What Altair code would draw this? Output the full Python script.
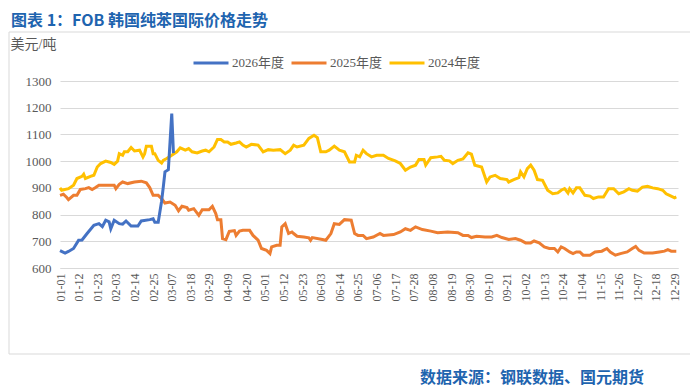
import altair as alt
import pandas as pd

TITLE = "图表 1：FOB 韩国纯苯国际价格走势"
SOURCE = "数据来源：钢联数据、国元期货"
Y_UNIT = "美元/吨"

SERIES = ["2026年度", "2025年度", "2024年度"]
COLORS = ["#4472C4", "#ED7D31", "#FFC000"]

TICK_LABELS = ["01-01", "01-12", "01-23", "02-03", "02-14", "02-25", "03-07", "03-18",
               "03-29", "04-09", "04-20", "05-01", "05-12", "05-23", "06-03", "06-14",
               "06-25", "07-06", "07-17", "07-28", "08-08", "08-19", "08-30", "09-10",
               "09-21", "10-02", "10-13", "10-24", "11-04", "11-15", "11-26", "12-07",
               "12-18", "12-29"]
Y_TICKS = [600, 700, 800, 900, 1000, 1100, 1200, 1300]

# day index (0 = 01-01) and price
DAYS_2026 = [0, 3, 5, 8, 11, 13, 16, 20, 23, 25, 27, 29, 30, 32, 35, 37, 39, 42, 46, 48,
             53, 55, 56, 58, 60, 61, 62, 64, 66, 67]
VALS_2026 = [665, 656, 662, 673, 704, 705, 729, 760, 766, 755, 779, 773, 747, 779, 766, 764,
             776, 757, 757, 776, 781, 784, 771, 771, 850, 903, 960, 968, 1178, 1030]

DAYS_2025 = [0, 2, 4, 5, 8, 10, 12, 15, 17, 19, 21, 23, 32, 33, 35, 37, 40, 44, 48, 51, 53,
             55, 58, 60, 62, 65, 68, 70, 72, 75, 76, 79, 82, 84, 88, 90, 92, 93, 95, 96, 98,
             100, 103, 104, 106, 108, 112, 114, 117, 119, 122, 124, 125, 128, 130, 131, 133,
             135, 137, 138, 140, 144, 147, 148, 149, 155, 157, 160, 162, 165, 168, 172, 174,
             176, 179, 181, 185, 189, 191, 197, 201, 204, 207, 210, 214, 219, 223, 229, 235,
             238, 241, 243, 246, 251, 255, 258, 261, 265, 269, 272, 275, 278, 280, 283, 286,
             289, 292, 294, 296, 298, 301, 303, 305, 307, 309, 313, 316, 320, 323, 325, 328,
             331, 335, 338, 340, 342, 345, 350, 354, 357, 359, 361, 364]
VALS_2025 = [872, 876, 864, 856, 872, 872, 894, 897, 901, 894, 901, 910, 910, 897, 913, 922,
             916, 922, 925, 919, 901, 872, 872, 860, 843, 847, 835, 814, 831, 826, 816, 822,
             797, 818, 818, 831, 804, 781, 781, 710, 706, 737, 740, 722, 738, 741, 741, 722,
             704, 673, 666, 654, 679, 685, 685, 754, 766, 729, 735, 729, 719, 716, 713, 704,
             714, 707, 704, 729, 766, 763, 781, 779, 729, 722, 722, 710, 716, 729, 722, 725,
             735, 747, 741, 754, 744, 738, 732, 735, 732, 722, 722, 714, 719, 716, 716, 722,
             714, 707, 710, 704, 694, 694, 701, 694, 679, 673, 673, 660, 679, 673, 660, 654,
             660, 660, 648, 648, 660, 663, 673, 660, 648, 654, 660, 673, 681, 666, 656, 656,
             660, 663, 669, 663, 663]

DAYS_2024 = [0, 1, 5, 8, 10, 13, 14, 15, 18, 20, 22, 24, 27, 30, 32, 34, 35, 37, 38, 40, 42,
             44, 47, 49, 50, 51, 54, 55, 56, 58, 60, 61, 63, 66, 69, 71, 74, 76, 78, 81, 84,
             86, 88, 91, 93, 95, 97, 99, 101, 104, 106, 108, 110, 113, 117, 120, 123, 126,
             130, 133, 136, 138, 140, 144, 147, 150, 152, 154, 157, 159, 162, 165, 168, 171,
             174, 175, 177, 179, 181, 184, 187, 191, 194, 198, 201, 204, 207, 210, 212, 215,
             216, 219, 223, 225, 227, 230, 232, 235, 238, 241, 243, 245, 249, 252, 254, 257,
             260, 264, 265, 268, 271, 272, 274, 276, 278, 280, 282, 285, 288, 291, 294, 296,
             298, 300, 301, 303, 305, 307, 310, 313, 315, 318, 321, 324, 327, 330, 333, 336,
             338, 341, 344, 347, 350, 353, 356, 358, 360, 363, 364]
VALS_2024 = [900, 891, 897, 910, 935, 943, 951, 935, 943, 947, 978, 991, 1000, 995, 988, 1000,
             1028, 1022, 1035, 1035, 1051, 1038, 1041, 1016, 1028, 1056, 1056, 1028, 1028,
             1003, 993, 1003, 1010, 1022, 1035, 1050, 1041, 1047, 1035, 1031, 1038, 1041, 1035,
             1053, 1081, 1081, 1072, 1072, 1063, 1068, 1072, 1060, 1053, 1063, 1060, 1035,
             1043, 1041, 1043, 1028, 1041, 1060, 1053, 1060, 1085, 1097, 1088, 1035, 1035,
             1041, 1056, 1041, 1035, 997, 997, 1022, 1016, 1041, 1028, 1016, 1022, 1022, 1010,
             1001, 991, 966, 978, 985, 1006, 1006, 985, 1013, 1016, 1018, 1003, 1001, 991, 1003,
             1008, 1031, 1026, 985, 978, 922, 941, 947, 935, 931, 922, 931, 938, 960, 941, 972,
             985, 966, 931, 928, 891, 878, 881, 891, 897, 881, 897, 881, 900, 900, 872, 869,
             860, 866, 866, 897, 897, 878, 885, 897, 891, 888, 903, 906, 900, 897, 891, 878,
             872, 863, 866]

rows = []
for name, days, vals in [("2024年度", DAYS_2024, VALS_2024),
                         ("2025年度", DAYS_2025, VALS_2025),
                         ("2026年度", DAYS_2026, VALS_2026)]:
    for d, v in zip(days, vals):
        rows.append({"series": name, "day": d, "value": v})
df = pd.DataFrame(rows)

tick_days = [i * 11 for i in range(len(TICK_LABELS))]
label_expr = "[" + ",".join("'" + t + "'" for t in TICK_LABELS) + "][round(datum.value/11)]"

SERIF = "'Liberation Serif', 'Noto Sans CJK SC', serif"
GREY = "#595959"
BLUE_TXT = "#1E64AF"

lines = alt.Chart(df).mark_line(strokeWidth=3).encode(
    x=alt.X("day:Q",
            scale=alt.Scale(domain=[0, 365], nice=False, zero=False),
            axis=alt.Axis(values=tick_days, labelExpr=label_expr, labelAngle=270,
                          ticks=False, grid=False, domain=True, domainColor="#d9d9d9",
                          labelFont=SERIF, labelFontSize=12, labelColor=GREY,
                          labelPadding=5, title=None)),
    y=alt.Y("value:Q",
            scale=alt.Scale(domain=[600, 1300], nice=False, zero=False),
            axis=alt.Axis(values=Y_TICKS, format="d", ticks=False, domain=False, grid=True,
                          gridColor="#d9d9d9", gridWidth=1,
                          labelFont=SERIF, labelFontSize=13, labelColor=GREY,
                          labelPadding=9,
                          title=Y_UNIT, titleAngle=0, titleX=-50, titleY=-37,
                          titleAlign="left", titleBaseline="middle",
                          titleFont=SERIF, titleFontSize=14, titleFontWeight="normal",
                          titleColor=GREY)),
    color=alt.Color("series:N",
                    scale=alt.Scale(domain=SERIES, range=COLORS),
                    sort=SERIES,
                    legend=alt.Legend(orient="none", legendX=132, legendY=-37,
                                      direction="horizontal", title=None,
                                      symbolType="stroke", symbolSize=1225,
                                      symbolStrokeWidth=3, labelFont=SERIF,
                                      labelFontSize=13, labelColor=GREY,
                                      labelOffset=2, columnPadding=0)),
)

one = alt.Data(values=[{"k": 1}])

border = alt.Chart(one).mark_rect(fillOpacity=0, stroke="#d9d9d9", strokeWidth=1).encode(
    x=alt.value(-51), x2=alt.value(633), y=alt.value(-49), y2=alt.value(273)
)

title = alt.Chart(one).mark_text(
    text=TITLE, align="left", baseline="middle", font="Noto Sans CJK SC",
    fontSize=16, fontWeight="bold", color=BLUE_TXT
).encode(x=alt.value(-49), y=alt.value(-60))

source = alt.Chart(one).mark_text(
    text=SOURCE, align="left", baseline="middle", font="Noto Sans CJK SC",
    fontSize=16, fontWeight="bold", color=BLUE_TXT
).encode(x=alt.value(360), y=alt.value(297))

chart = alt.layer(border, lines, title, source).properties(
    width=618, height=187,
    autosize=alt.AutoSizeParams(type="none"),
    padding={"left": 52, "top": 73, "right": 12, "bottom": 120},
    background="white",
).configure_view(stroke=None)

chart.save("out.html", embed_options={"renderer": "svg", "actions": False})
